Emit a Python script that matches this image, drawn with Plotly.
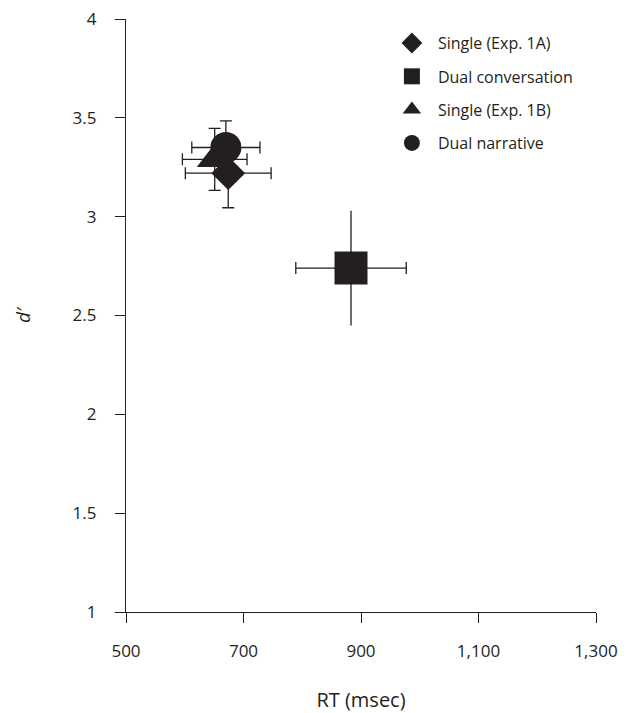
import plotly.graph_objects as go

# ---- data ----
conditions = ["Single (Exp. 1A)", "Dual conversation", "Single (Exp. 1B)", "Dual narrative"]
rt_msec = [674, 883, 651, 670]
rt_err = [73, 94, 55, 58]
d_prime = [3.22, 2.74, 3.29, 3.35]
d_prime_err = [0.175, 0.29, 0.157, 0.135]

symbols = ["diamond", "square", "triangle-up", "circle"]
sizes = [26, 33, 31, 31]
y_cap_widths = [6, 0, 6, 6]

INK = "#231f20"
FONT = "Open Sans, Noto Sans, sans-serif"

fig = go.Figure()
for i, name in enumerate(conditions):
    fig.add_trace(go.Scatter(
        x=[rt_msec[i]], y=[d_prime[i]],
        mode="markers",
        name=name,
        legendgroup=f"g{i}",
        marker=dict(symbol=symbols[i], size=sizes[i], color=INK,
                    line=dict(width=0)),
        error_x=dict(type="data", array=[rt_err[i]], visible=True,
                     color=INK, thickness=1.3, width=6),
        error_y=dict(type="data", array=[d_prime_err[i]], visible=True,
                     color=INK, thickness=1.3, width=y_cap_widths[i]),
    ))

fig.update_layout(
    width=636, height=713,
    margin=dict(l=126, r=40, t=19, b=101),
    paper_bgcolor="white", plot_bgcolor="white",
    font=dict(family=FONT, color=INK, size=17),
    showlegend=True,
    legend=dict(x=0.553, y=0.988, xanchor="left", yanchor="top",
                font=dict(size=16, family=FONT, color=INK),
                tracegroupgap=9.5, itemwidth=42,
                bgcolor="rgba(0,0,0,0)"),
    xaxis=dict(range=[500, 1300], tickvals=[500, 700, 900, 1100, 1300],
               tickformat=",", showgrid=False, zeroline=False,
               showline=True, linecolor=INK, linewidth=1.2,
               ticks="outside", ticklen=10, tickwidth=1.2, tickcolor=INK,
               ticklabelstandoff=13, automargin=False,
               title=dict(text="RT (msec)", standoff=37, font=dict(size=20))),
    yaxis=dict(range=[1, 4], tickvals=[1, 1.5, 2, 2.5, 3, 3.5, 4],
               showgrid=False, zeroline=False,
               showline=True, linecolor=INK, linewidth=1.2,
               ticks="outside", ticklen=10, tickwidth=1.2, tickcolor=INK,
               ticklabelstandoff=15, automargin=False,
               title=dict(text="<i>d′</i>", standoff=36, font=dict(size=19))),
)

fig.write_html("out.html", config={"displayModeBar": False},
               post_script="document.body.style.margin='0';")
